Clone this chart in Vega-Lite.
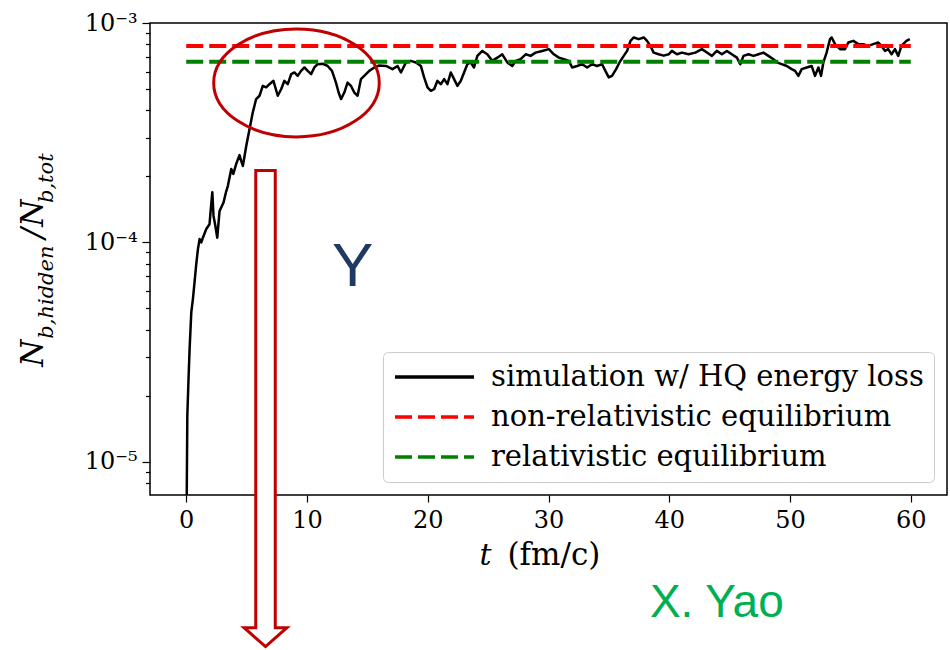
{
  "$schema": "https://vega.github.io/schema/vega-lite/v6.json",
  "width": 797,
  "height": 472,
  "autosize": {"type": "none"},
  "padding": {"left": 150, "top": 23, "right": 3, "bottom": 155},
  "background": "white",
  "config": {
    "view": {"stroke": "black", "strokeWidth": 1.5},
    "axis": {"domain": false, "grid": false, "tickColor": "black", "tickWidth": 1.2, "labelFont": "DejaVu Serif", "labelFontSize": 24, "labelColor": "black"},
    "legend": {"orient": "bottom-right", "offset": 13, "labelFont": "DejaVu Serif", "labelFontSize": 29, "labelColor": "black", "symbolType": "stroke", "symbolSize": 6240, "symbolStrokeWidth": 3.5, "clipHeight": 30, "rowPadding": 10, "labelOffset": 15, "padding": 10, "strokeColor": "#cccccc", "fillColor": "white", "cornerRadius": 5, "labelLimit": 0}
  },
  "datasets": {
    "sim": [
      {"t": 0, "v": 2.0e-6}, {"t": 0.05, "v": 8e-6}, {"t": 0.09, "v": 1.62e-5}, {"t": 0.2, "v": 2.47e-5}, {"t": 0.28, "v": 3.27e-5}, {"t": 0.42, "v": 4.8e-5}, {"t": 0.55, "v": 5.5e-5}, {"t": 0.69, "v": 6.58e-5}, {"t": 0.83, "v": 7.96e-5}, {"t": 0.97, "v": 9.31e-5}, {"t": 1.11, "v": 1.035e-4}, {"t": 1.25, "v": 1.0e-4}, {"t": 1.38, "v": 1.05e-4}, {"t": 1.66, "v": 1.15e-4}, {"t": 1.93, "v": 1.21e-4}, {"t": 2.05, "v": 1.45e-4}, {"t": 2.16, "v": 1.69e-4}, {"t": 2.26, "v": 1.32e-4}, {"t": 2.4, "v": 1.2e-4}, {"t": 2.57, "v": 1.05e-4}, {"t": 2.76, "v": 1.39e-4}, {"t": 3.09, "v": 1.52e-4}, {"t": 3.3, "v": 1.7e-4}, {"t": 3.45, "v": 1.81e-4}, {"t": 3.73, "v": 2.16e-4}, {"t": 3.9, "v": 2.05e-4}, {"t": 4.14, "v": 2.28e-4}, {"t": 4.41, "v": 2.5e-4}, {"t": 4.55, "v": 2.35e-4}, {"t": 4.69, "v": 2.23e-4}, {"t": 4.97, "v": 2.75e-4}, {"t": 5.24, "v": 3.28e-4}, {"t": 5.51, "v": 3.91e-4}, {"t": 5.79, "v": 4.5e-4}, {"t": 6.07, "v": 4.66e-4}, {"t": 6.34, "v": 5.17e-4}, {"t": 6.62, "v": 5.09e-4}, {"t": 6.89, "v": 5.26e-4}, {"t": 7.22, "v": 5.45e-4}, {"t": 7.58, "v": 4.66e-4}, {"t": 7.86, "v": 4.99e-4}, {"t": 8.13, "v": 5.45e-4}, {"t": 8.41, "v": 5.26e-4}, {"t": 8.69, "v": 5.85e-4}, {"t": 8.96, "v": 5.95e-4}, {"t": 9.23, "v": 5.74e-4}, {"t": 9.51, "v": 6.05e-4}, {"t": 9.79, "v": 6.27e-4}, {"t": 10.06, "v": 6.05e-4}, {"t": 10.34, "v": 5.85e-4}, {"t": 10.61, "v": 6.27e-4}, {"t": 10.88, "v": 6.49e-4}, {"t": 11.3, "v": 6.52e-4}, {"t": 11.71, "v": 6.37e-4}, {"t": 12.07, "v": 6.05e-4}, {"t": 12.4, "v": 5.35e-4}, {"t": 12.62, "v": 4.82e-4}, {"t": 12.82, "v": 4.5e-4}, {"t": 13.09, "v": 4.82e-4}, {"t": 13.36, "v": 5.35e-4}, {"t": 13.64, "v": 5.17e-4}, {"t": 13.92, "v": 4.82e-4}, {"t": 14.19, "v": 4.66e-4}, {"t": 14.47, "v": 5.55e-4}, {"t": 14.74, "v": 5.74e-4}, {"t": 15.16, "v": 6.05e-4}, {"t": 15.57, "v": 6.27e-4}, {"t": 15.98, "v": 6.4e-4}, {"t": 16.54, "v": 6.37e-4}, {"t": 17.08, "v": 6.16e-4}, {"t": 17.5, "v": 6.37e-4}, {"t": 17.78, "v": 5.95e-4}, {"t": 18.19, "v": 6.61e-4}, {"t": 18.6, "v": 6.72e-4}, {"t": 19.02, "v": 6.61e-4}, {"t": 19.43, "v": 6.37e-4}, {"t": 19.7, "v": 5.65e-4}, {"t": 19.98, "v": 5.09e-4}, {"t": 20.26, "v": 4.91e-4}, {"t": 20.53, "v": 4.99e-4}, {"t": 20.8, "v": 5.45e-4}, {"t": 21.08, "v": 5.26e-4}, {"t": 21.36, "v": 5.55e-4}, {"t": 21.63, "v": 5.26e-4}, {"t": 21.91, "v": 5.95e-4}, {"t": 22.18, "v": 5.55e-4}, {"t": 22.46, "v": 5.17e-4}, {"t": 22.74, "v": 5.45e-4}, {"t": 23.01, "v": 5.95e-4}, {"t": 23.28, "v": 6.49e-4}, {"t": 23.56, "v": 6.61e-4}, {"t": 23.83, "v": 6.27e-4}, {"t": 24.11, "v": 7.08e-4}, {"t": 24.52, "v": 7.46e-4}, {"t": 24.93, "v": 7.2e-4}, {"t": 25.35, "v": 6.72e-4}, {"t": 25.76, "v": 6.95e-4}, {"t": 26.17, "v": 7.2e-4}, {"t": 26.59, "v": 6.61e-4}, {"t": 27.0, "v": 6.37e-4}, {"t": 27.28, "v": 6.72e-4}, {"t": 27.69, "v": 6.84e-4}, {"t": 28.11, "v": 7.2e-4}, {"t": 28.52, "v": 7.08e-4}, {"t": 28.93, "v": 7.33e-4}, {"t": 29.48, "v": 7.46e-4}, {"t": 30.03, "v": 7.6e-4}, {"t": 30.44, "v": 7.2e-4}, {"t": 30.86, "v": 6.95e-4}, {"t": 31.27, "v": 6.84e-4}, {"t": 31.69, "v": 6.72e-4}, {"t": 31.96, "v": 6.27e-4}, {"t": 32.37, "v": 6.37e-4}, {"t": 32.79, "v": 6.49e-4}, {"t": 33.2, "v": 6.27e-4}, {"t": 33.61, "v": 6.49e-4}, {"t": 34.02, "v": 6.37e-4}, {"t": 34.44, "v": 6.49e-4}, {"t": 34.71, "v": 6.05e-4}, {"t": 34.99, "v": 5.65e-4}, {"t": 35.26, "v": 5.74e-4}, {"t": 35.6, "v": 6.16e-4}, {"t": 35.88, "v": 6.61e-4}, {"t": 36.23, "v": 7.08e-4}, {"t": 36.51, "v": 7.46e-4}, {"t": 36.79, "v": 8.29e-4}, {"t": 37.06, "v": 8.59e-4}, {"t": 37.47, "v": 8.44e-4}, {"t": 37.89, "v": 8.59e-4}, {"t": 38.16, "v": 8.29e-4}, {"t": 38.44, "v": 7.86e-4}, {"t": 38.71, "v": 7.33e-4}, {"t": 39.12, "v": 7.2e-4}, {"t": 39.54, "v": 7.1e-4}, {"t": 39.95, "v": 7.2e-4}, {"t": 40.22, "v": 7.46e-4}, {"t": 40.64, "v": 7.2e-4}, {"t": 41.05, "v": 7.33e-4}, {"t": 41.6, "v": 7.2e-4}, {"t": 42.16, "v": 7.33e-4}, {"t": 42.7, "v": 7.6e-4}, {"t": 43.12, "v": 7.33e-4}, {"t": 43.53, "v": 7.08e-4}, {"t": 43.94, "v": 7.46e-4}, {"t": 44.36, "v": 7.2e-4}, {"t": 44.77, "v": 7.46e-4}, {"t": 45.18, "v": 7.2e-4}, {"t": 45.6, "v": 6.95e-4}, {"t": 45.88, "v": 6.49e-4}, {"t": 46.15, "v": 7.08e-4}, {"t": 46.56, "v": 7.2e-4}, {"t": 46.98, "v": 7.08e-4}, {"t": 47.39, "v": 7.2e-4}, {"t": 47.8, "v": 7.33e-4}, {"t": 48.21, "v": 7.08e-4}, {"t": 48.63, "v": 6.84e-4}, {"t": 48.9, "v": 6.61e-4}, {"t": 49.31, "v": 6.49e-4}, {"t": 49.73, "v": 6.37e-4}, {"t": 50.14, "v": 6.16e-4}, {"t": 50.42, "v": 6.05e-4}, {"t": 50.69, "v": 5.74e-4}, {"t": 50.97, "v": 6.16e-4}, {"t": 51.38, "v": 6.27e-4}, {"t": 51.79, "v": 6.37e-4}, {"t": 52.07, "v": 5.74e-4}, {"t": 52.35, "v": 6.27e-4}, {"t": 52.57, "v": 5.74e-4}, {"t": 52.76, "v": 6.61e-4}, {"t": 53.03, "v": 7.33e-4}, {"t": 53.31, "v": 8.44e-4}, {"t": 53.45, "v": 8.59e-4}, {"t": 53.73, "v": 8.01e-4}, {"t": 54.14, "v": 7.6e-4}, {"t": 54.55, "v": 7.6e-4}, {"t": 54.83, "v": 8.15e-4}, {"t": 55.24, "v": 8.29e-4}, {"t": 55.65, "v": 8.01e-4}, {"t": 56.07, "v": 8.01e-4}, {"t": 56.48, "v": 7.86e-4}, {"t": 56.89, "v": 8.01e-4}, {"t": 57.31, "v": 8.15e-4}, {"t": 57.58, "v": 7.86e-4}, {"t": 57.86, "v": 7.46e-4}, {"t": 58.13, "v": 7.6e-4}, {"t": 58.41, "v": 7.2e-4}, {"t": 58.69, "v": 7.6e-4}, {"t": 58.96, "v": 7.08e-4}, {"t": 59.23, "v": 7.86e-4}, {"t": 59.64, "v": 8.29e-4}, {"t": 59.92, "v": 8.44e-4}
    ],
    "eq": [
      {"t": 0, "v": 7.86e-4, "s": "nonrel"}, {"t": 60, "v": 7.86e-4, "s": "nonrel"},
      {"t": 0, "v": 6.65e-4, "s": "rel"}, {"t": 60, "v": 6.65e-4, "s": "rel"}
    ]
  },
  "encoding": {
    "x": {"field": "t", "type": "quantitative", "scale": {"domain": [-3, 63], "nice": false, "zero": false}, "axis": {"values": [0, 10, 20, 30, 40, 50, 60], "tickSize": 7, "labelPadding": 6, "title": null}},
    "y": {"field": "v", "type": "quantitative", "scale": {"type": "log", "domain": [7.05e-6, 1e-3], "nice": false},
      "axis": {"values": [8e-6, 9e-6, 1e-5, 2e-5, 3e-5, 4e-5, 5e-5, 6e-5, 7e-5, 8e-5, 9e-5, 1e-4, 2e-4, 3e-4, 4e-4, 5e-4, 6e-4, 7e-4, 8e-4, 9e-4, 1e-3],
        "tickSize": {"condition": {"test": "abs(log(datum.value)/LN10 - round(log(datum.value)/LN10)) < 0.001", "value": 8}, "value": 4.5},
        "labelExpr": "abs(log(datum.value)/LN10 - round(log(datum.value)/LN10)) < 0.001 ? (round(log(datum.value)/LN10) == -3 ? '10⁻³' : round(log(datum.value)/LN10) == -4 ? '10⁻⁴' : '10⁻⁵') : ''",
        "labelPadding": 5, "title": null}}
  },
  "layer": [
    {
      "data": {"name": "sim"},
      "mark": {"type": "line", "color": "black", "strokeWidth": 2.5, "clip": true, "strokeJoin": "round"}
    },
    {
      "data": {"name": "eq"},
      "mark": {"type": "line", "strokeWidth": 4, "clip": true},
      "encoding": {
        "color": {"field": "s", "type": "nominal", "scale": {"domain": ["sim", "nonrel", "rel"], "range": ["black", "#ff0000", "#008000"]},
          "legend": {"title": null, "labelExpr": "datum.label == 'sim' ? 'simulation w/ HQ energy loss' : datum.label == 'nonrel' ? 'non-relativistic equilibrium' : 'relativistic equilibrium'"}},
        "strokeDash": {"field": "s", "type": "nominal", "scale": {"domain": ["sim", "nonrel", "rel"], "range": [[1, 0], [17, 6], [17, 6]]},
          "legend": {"title": null, "labelExpr": "datum.label == 'sim' ? 'simulation w/ HQ energy loss' : datum.label == 'nonrel' ? 'non-relativistic equilibrium' : 'relativistic equilibrium'"}}
      }
    },
    {
      "data": {"values": [{"t": 9.13, "v": 5.33e-4}]},
      "mark": {"type": "point", "shape": "M -1 0 C -1 -0.36 -0.5523 -0.652 0 -0.652 C 0.5523 -0.652 1 -0.36 1 0 C 1 0.36 0.5523 0.652 0 0.652 C -0.5523 0.652 -1 0.36 -1 0 Z", "size": 27423, "filled": false, "stroke": "#c00000", "strokeWidth": 3, "opacity": 1}
    },
    {
      "data": {"values": [{"t": 6.565, "v": 1.747e-5}]},
      "mark": {"type": "point", "shape": "M -0.041 -1 L 0.041 -1 L 0.041 0.921 L 0.09 0.921 L 0 1 L -0.09 0.921 L -0.041 0.921 Z", "size": 226576, "fill": "white", "stroke": "#c00000", "strokeWidth": 3, "opacity": 1, "fillOpacity": 1, "strokeOpacity": 1}
    },
    {
      "data": {"values": [{"t": 13.79, "v": 6.334e-5, "label": "Y"}]},
      "mark": {"type": "text", "font": "Liberation Sans", "fontSize": 62, "color": "#1f3864", "align": "center", "baseline": "alphabetic"},
      "encoding": {"text": {"field": "label"}}
    },
    {
      "data": {"values": [{"t": 43.94, "v": 1.961e-6, "label": "X. Yao"}]},
      "mark": {"type": "text", "font": "Liberation Sans", "fontSize": 46, "color": "#00b050", "align": "center", "baseline": "alphabetic"},
      "encoding": {"text": {"field": "label"}}
    },
    {
      "data": {"values": [{"t": 24.78, "v": 3.383e-6, "label": "t"}]},
      "mark": {"type": "text", "font": "DejaVu Serif", "fontStyle": "italic", "fontSize": 30, "color": "black", "align": "center", "baseline": "alphabetic"},
      "encoding": {"text": {"field": "label"}}
    },
    {
      "data": {"values": [{"t": 30.45, "v": 3.383e-6, "label": "(fm/c)"}]},
      "mark": {"type": "text", "font": "DejaVu Serif", "fontSize": 31, "color": "black", "align": "center", "baseline": "alphabetic"},
      "encoding": {"text": {"field": "label"}}
    },
    {
      "data": {"values": [{"t": -11.9, "v": 3.128e-5, "label": "N"}, {"t": -11.9, "v": 1.101e-4, "label": "/"}, {"t": -11.9, "v": 1.358e-4, "label": "N"}]},
      "mark": {"type": "text", "font": "DejaVu Serif", "fontStyle": "italic", "fontSize": 31, "color": "black", "align": "center", "baseline": "alphabetic", "angle": 270},
      "encoding": {"text": {"field": "label"}}
    },
    {
      "data": {"values": [{"t": -11.07, "v": 5.931e-5, "label": "b,hidden"}, {"t": -11.07, "v": 1.961e-4, "label": "b,tot"}]},
      "mark": {"type": "text", "font": "DejaVu Serif", "fontStyle": "italic", "fontSize": 21, "color": "black", "align": "center", "baseline": "alphabetic", "angle": 270},
      "encoding": {"text": {"field": "label"}}
    }
  ]
}
